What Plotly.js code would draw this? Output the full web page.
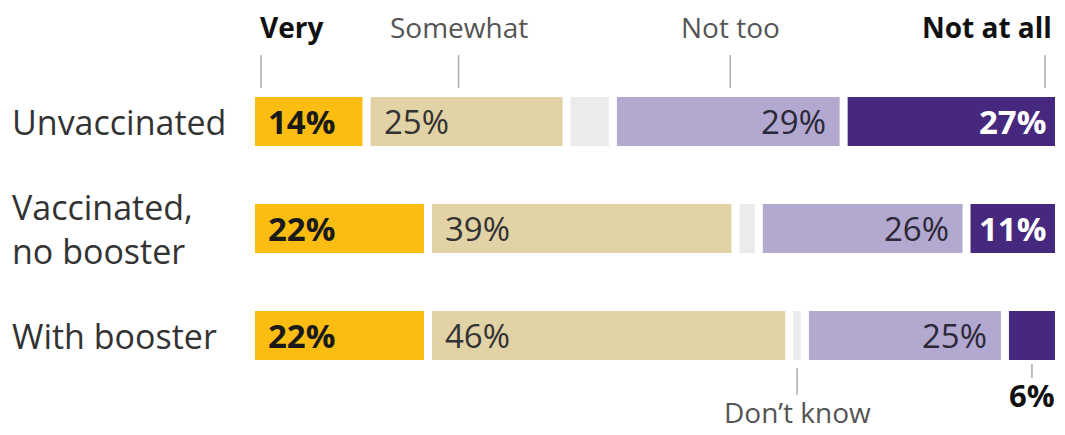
<!DOCTYPE html>
<html><head><meta charset="utf-8">
<script src="https://cdn.plot.ly/plotly-3.0.1.min.js"></script>
<style>html,body{margin:0;padding:0;background:#fff}</style>
</head><body><div id="chart" style="width:1065px;height:435px"></div>
<script>
// ---- data ----
const groups = ["Unvaccinated", "Vaccinated, no booster", "With booster"];
const groupLabels = ["Unvaccinated", "Vaccinated,<br>no booster", "With booster"];
const responses = ["Very", "Somewhat", "Don't know", "Not too", "Not at all"];
const very = [14, 22, 22];
const somewhat = [25, 39, 46];
const dontKnow = [5, 2, 1];
const notToo = [29, 26, 25];
const notAtAll = [27, 11, 6];

// ---- style ----
const FONT = "Open Sans, sans-serif";
const series = [very, somewhat, dontKnow, notToo, notAtAll];
const colors = ["#FBBD12", "#E2D3A6", "#EBEBEB", "#B3A8CF", "#47287F"];
const labelStyle = [
  {side: "left", weight: 700, color: "#1a1a1a"},
  {side: "left", weight: 400, color: "#333333"},
  null,
  {side: "right", weight: 400, color: "#2b2838"},
  {side: "right", weight: 700, color: "#ffffff"}
];
const GAP = 1.0417;           // white gap between segments, in % units (~8px)
const XMAX = 100 + 4 * GAP;
const BARW = 0.458;

// bases computed from data
const bases = series.map((s, i) => groups.map((g, j) => {
  let b = i * GAP;
  for (let k = 0; k < i; k++) b += series[k][j];
  return b;
}));

const traces = series.map((s, i) => ({
  type: "bar", orientation: "h",
  name: responses[i],
  y: groups, x: s, base: bases[i],
  width: BARW,
  marker: {color: colors[i], line: {width: 0}},
  hoverinfo: "skip", showlegend: false
}));

const annotations = [];
const shapes = [];

// row labels
groups.forEach((g, j) => {
  annotations.push({
    xref: "paper", yref: "y", x: 0, y: g, xshift: -245,
    xanchor: "left", yanchor: "middle", align: "left",
    text: groupLabels[j], showarrow: false,
    font: {family: FONT, size: 34, color: "#333333"}
  });
});

// value labels
series.forEach((s, i) => {
  const st = labelStyle[i];
  if (!st) return;
  groups.forEach((g, j) => {
    const v = s[j];
    const start = bases[i][j], end = start + v;
    if (v < 8) {
      // too small: label outside, below the bar
      const mid = start + v / 2;
      shapes.push({type: "line", xref: "x", yref: "paper", xsizemode: "pixel",
        xanchor: mid, x0: 0, x1: 0, y0: 0.078, y1: 0.034,
        line: {color: "#aaaaaa", width: 1.5}});
      annotations.push({xref: "x", yref: "paper", x: end, y: -0.019, xshift: 2,
        xanchor: "right", yanchor: "middle", text: v + "%", showarrow: false,
        font: {family: FONT, size: 31, color: "#111111", weight: 700}});
      return;
    }
    annotations.push({
      xref: "x", yref: "y",
      x: st.side === "left" ? start : end, y: g,
      xshift: st.side === "left" ? 11 : (i === 4 ? -7 : -12),
      xanchor: st.side, yanchor: "middle",
      text: v + "%", showarrow: false,
      font: {family: FONT, size: 33, color: st.color, weight: st.weight}
    });
  });
});

// header category labels (pointing at first row)
const r0 = 0;
const headers = [
  {i: 0, anchor: bases[0][r0], tick: 6, text: "<b>Very</b>", xanchor: "left", tx: 3, color: "#111111"},
  {i: 1, anchor: bases[1][r0] + somewhat[r0] / 2, tick: -8, text: "Somewhat", xanchor: "center", tx: -8, color: "#555555"},
  {i: 3, anchor: bases[3][r0] + notToo[r0] / 2, tick: 2, text: "Not too", xanchor: "center", tx: 2, color: "#555555"},
  {i: 4, anchor: bases[4][r0] + notAtAll[r0], tick: -10, text: "<b>Not at all</b>", xanchor: "right", tx: -1, color: "#111111"}
];
headers.forEach(h => {
  shapes.push({type: "line", xref: "x", yref: "paper", xsizemode: "pixel",
    xanchor: h.anchor, x0: h.tick, x1: h.tick, y0: 0.938, y1: 1.04,
    line: {color: "#aaaaaa", width: 1.5}});
  annotations.push({xref: "x", yref: "paper", x: h.anchor, xshift: h.tx, y: 1.128,
    xanchor: h.xanchor, yanchor: "middle", text: h.text, showarrow: false,
    font: {family: FONT, size: 28, color: h.color}});
});

// "Don't know" pointer on last row
const lastRow = groups.length - 1;
const dkMid = bases[2][lastRow] + dontKnow[lastRow] / 2;
shapes.push({type: "line", xref: "x", yref: "paper", xsizemode: "pixel",
  xanchor: dkMid, x0: 0, x1: 0, y0: 0.065, y1: -0.019,
  line: {color: "#aaaaaa", width: 1.5}});
annotations.push({xref: "x", yref: "paper", x: dkMid, y: -0.072,
  xanchor: "center", yanchor: "middle", text: "Don\u2019t know", showarrow: false,
  font: {family: FONT, size: 28, color: "#555555"}});

const layout = {
  width: 1065, height: 435,
  margin: {l: 255, r: 10, t: 68, b: 46},
  paper_bgcolor: "#ffffff", plot_bgcolor: "#ffffff",
  barmode: "overlay",
  xaxis: {range: [0, XMAX], visible: false, fixedrange: true},
  yaxis: {type: "category", categoryarray: groups, range: [2.5, -0.5], visible: false, fixedrange: true},
  annotations: annotations,
  shapes: shapes,
  showlegend: false
};

Plotly.newPlot("chart", traces, layout, {displayModeBar: false, staticPlot: true});
</script>
</body></html>
